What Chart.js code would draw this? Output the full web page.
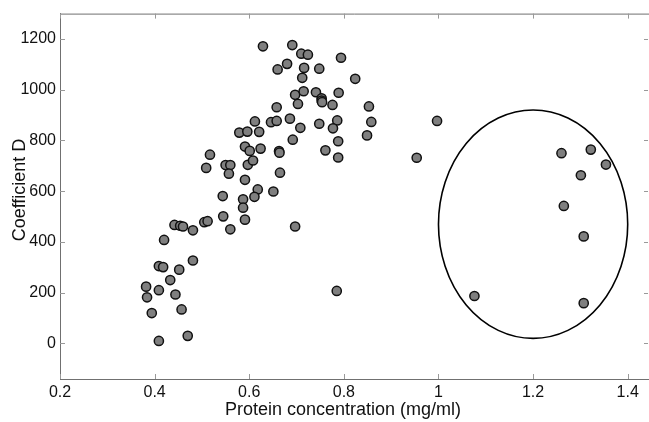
<!DOCTYPE html>
<html>
<head>
<meta charset="utf-8">
<script src="https://cdn.jsdelivr.net/npm/chart.js@4.4.0/dist/chart.umd.min.js"></script>
<style>
html, body { margin: 0; padding: 0; background: #fff; overflow: hidden; }
#wrap { width: 649px; height: 422px; }
</style>
</head>
<body>
<div id="wrap"><canvas id="chart"></canvas></div>
<script>
// protein concentration (mg/ml) and coefficient D
var protein = [
    0.629, 0.691, 0.710, 0.724, 0.680, 0.660, 0.716, 0.748, 0.712, 0.697,
    0.715, 0.741, 0.753, 0.753, 0.754, 0.703, 0.776, 0.658, 0.686, 0.646,
    0.658, 0.612, 0.708, 0.748, 0.579, 0.596, 0.621, 0.692, 0.591, 0.601,
    0.624, 0.663, 0.664, 0.761, 0.517, 0.509, 0.550, 0.560, 0.597, 0.608,
    0.557, 0.591, 0.665, 0.618, 0.651, 0.544, 0.587, 0.611, 0.587, 0.545,
    0.591, 0.442, 0.454, 0.460, 0.481, 0.505, 0.512, 0.560, 0.697, 0.420,
    0.409, 0.418, 0.481, 0.452, 0.433, 0.382, 0.384, 0.409, 0.444, 0.457,
    0.394, 0.409, 0.470, 0.794, 0.824, 0.789, 0.853, 0.786, 0.858, 0.777,
    0.849, 0.788, 0.788, 0.997, 0.954, 1.260, 1.322, 1.354, 1.301, 1.265,
    1.307, 0.785, 1.076, 1.307
];
var coeffD = [
    1171, 1176, 1142, 1138, 1102, 1080, 1086, 1083, 1047, 980,
    994, 990, 966, 957, 951, 944, 940, 931, 886, 872,
    877, 875, 850, 866, 831, 835, 834, 803, 776, 759,
    768, 758, 752, 761, 744, 692, 703, 703, 704, 721,
    669, 645, 673, 607, 599, 581, 568, 578, 535, 501,
    488, 467, 464, 461, 446, 478, 482, 450, 461, 408,
    305, 301, 327, 291, 250, 224, 182, 210, 193, 134,
    120, 10, 30, 1126, 1043, 988, 934, 879, 873, 848,
    820, 797, 733, 877, 732, 750, 764, 705, 663, 542,
    422, 207, 187, 159
];

var xTicks = [0.2, 0.4, 0.6, 0.8, 1, 1.2, 1.4];
var yTicks = [0, 200, 400, 600, 800, 1000, 1200];
var xRange = [0.2, 1.445];
var yRange = [-140, 1300];
// outlier ellipse: centre x, centre y, half width, half height (data units)
var ellipse = [1.2, 470, 0.2, 450];

var points = [];
for (let i = 0; i < protein.length; i++) {
    points.push({ x: protein[i], y: coeffD[i] });
}

const axisColor = '#707070';
const fontFamily = '"Liberation Sans", Arial, Helvetica, sans-serif';

const framePlugin = {
    id: 'frame',
    afterLayout(chart) {
        // stretch the plot area to the right edge of the canvas
        const xs = chart.scales.x;
        const a = chart.chartArea;
        a.right = chart.width;
        a.width = a.right - a.left;
        xs.right = chart.width;
        xs.width = xs.right - xs.left;
        xs.configure();
    },
    beforeDatasetsDraw(chart) {
        const ctx = chart.ctx;
        const xs = chart.scales.x, ys = chart.scales.y;
        const a = chart.chartArea;
        ctx.save();
        // top border
        ctx.strokeStyle = axisColor;
        ctx.lineWidth = 1;
        ctx.beginPath();
        ctx.moveTo(a.left, a.top + 0.5);
        ctx.lineTo(chart.width, a.top + 0.5);
        ctx.stroke();
        // inward ticks
        ctx.strokeStyle = '#999';
        ctx.beginPath();
        xTicks.forEach(function (v) {
            const px = Math.round(xs.getPixelForValue(v)) + 0.5;
            ctx.moveTo(px, a.bottom); ctx.lineTo(px, a.bottom - 5);
            ctx.moveTo(px, a.top); ctx.lineTo(px, a.top + 5);
        });
        yTicks.forEach(function (v) {
            const py = Math.round(ys.getPixelForValue(v)) + 0.5;
            ctx.moveTo(a.left, py); ctx.lineTo(a.left + 5, py);
            ctx.moveTo(chart.width - 1, py); ctx.lineTo(chart.width - 5, py);
        });
        ctx.stroke();
        // ellipse
        const cx = xs.getPixelForValue(ellipse[0]);
        const cy = ys.getPixelForValue(ellipse[1]);
        const rx = Math.abs(xs.getPixelForValue(ellipse[0] + ellipse[2]) - cx);
        const ry = Math.abs(ys.getPixelForValue(ellipse[1] + ellipse[3]) - cy);
        ctx.strokeStyle = '#000';
        ctx.lineWidth = 1.6;
        ctx.beginPath();
        ctx.ellipse(cx, cy, rx, ry, 0, 0, Math.PI * 2);
        ctx.stroke();
        ctx.restore();
    },
    afterDraw(chart) {
        const ctx = chart.ctx;
        ctx.save();
        ctx.fillStyle = '#111';
        ctx.font = '18px ' + fontFamily;
        ctx.textAlign = 'center';
        ctx.textBaseline = 'alphabetic';
        ctx.fillText('Protein concentration (mg/ml)', 343, 415);
        ctx.translate(25, 190);
        ctx.rotate(-Math.PI / 2);
        ctx.fillText('Coefficient D', 0, 0);
        ctx.restore();
    }
};

new Chart(document.getElementById('chart').getContext('2d'), {
    type: 'scatter',
    data: {
        datasets: [{
            label: 'Coefficient D',
            data: points,
            backgroundColor: '#7f7f7f',
            borderColor: '#111',
            borderWidth: 1.5,
            pointRadius: 4.6,
            pointHoverRadius: 4.6
        }]
    },
    options: {
        responsive: true,
        maintainAspectRatio: false,
        animation: false,
        events: [],
        layout: { padding: { top: 13, right: 0, left: 0, bottom: 0 } },
        plugins: {
            legend: { display: false },
            tooltip: { enabled: false }
        },
        scales: {
            x: {
                type: 'linear',
                min: xRange[0],
                max: xRange[1],
                afterBuildTicks: function (s) { s.ticks = xTicks.map(function (v) { return { value: v }; }); },
                afterFit: function (s) { s.height = 43; },
                grid: { display: false, drawTicks: false },
                border: { display: true, color: axisColor, width: 1 },
                ticks: {
                    padding: 4,
                    color: '#111',
                    font: { family: fontFamily, size: 16 },
                    maxRotation: 0,
                    callback: function (v) { return String(Math.round(v * 10) / 10); }
                }
            },
            y: {
                type: 'linear',
                min: yRange[0],
                max: yRange[1],
                afterBuildTicks: function (s) { s.ticks = yTicks.map(function (v) { return { value: v }; }); },
                afterFit: function (s) { s.width = 60; },
                grid: { display: false, drawTicks: false },
                border: { display: true, color: axisColor, width: 1 },
                ticks: {
                    padding: 4,
                    color: '#111',
                    font: { family: fontFamily, size: 16 },
                    callback: function (v) { return String(v); }
                }
            }
        }
    },
    plugins: [framePlugin]
});
</script>
</body>
</html>
